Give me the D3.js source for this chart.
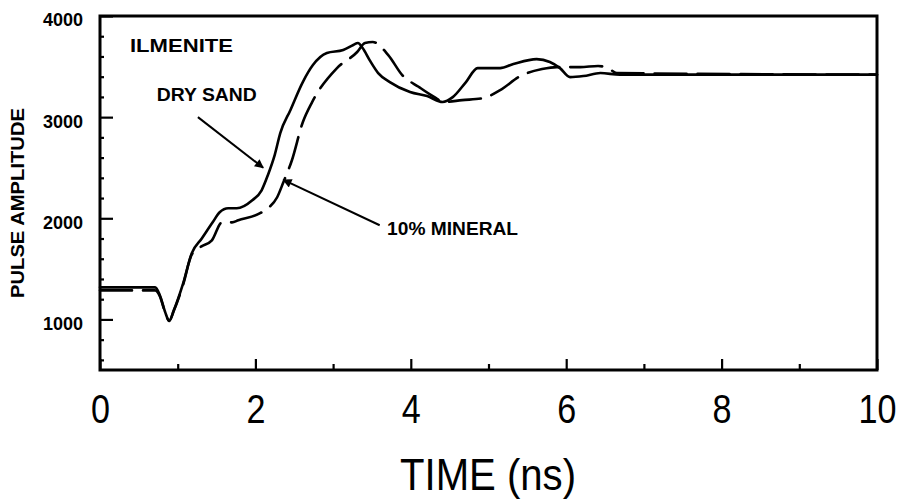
<!DOCTYPE html>
<html>
<head>
<meta charset="utf-8">
<script src="https://cdn.jsdelivr.net/npm/d3@7"></script>
<style>
	body { margin: 0; background: #fff; }
	.curve { fill: none; stroke: #000; stroke-width: 2.6; stroke-linejoin: round; stroke-linecap: round; }
	.frame { fill: none; stroke: #000; stroke-width: 3; }
	.axis path { display: none; }
	.axis line { stroke: #000; stroke-width: 2.2; }
</style>
</head>
<body>
<div id="chart"></div>
<script>
// dati (tempo in ns, ampiezza)
const drySandTime = [0, 0.71, 0.77, 0.84, 0.89, 0.95, 1.07, 1.18, 1.31, 1.45, 1.54, 1.65, 1.76, 1.96, 2.08, 2.16, 2.25, 2.32, 2.45, 2.61, 2.74, 2.92, 3.13, 3.26, 3.32, 3.38, 3.47, 3.58, 3.73, 3.99, 4.21, 4.41, 4.54, 4.71, 4.86, 5.15, 5.32, 5.62, 5.79, 5.92, 6.05, 6.22, 6.44, 6.69, 10];
const drySandAmp = [1317, 1317, 1240, 1070, 985, 1090, 1356, 1653, 1800, 1960, 2059, 2099, 2099, 2178, 2277, 2426, 2630, 2842, 3069, 3347, 3515, 3634, 3663, 3713, 3733, 3683, 3564, 3436, 3347, 3248, 3208, 3150, 3198, 3347, 3485, 3485, 3525, 3574, 3545, 3485, 3396, 3406, 3436, 3420, 3420];

const mineralTime = [0, 0.71, 0.77, 0.84, 0.89, 0.95, 1.07, 1.18, 1.30, 1.44, 1.57, 1.70, 1.78, 2.06, 2.16, 2.28, 2.36, 2.47, 2.61, 2.73, 3.05, 3.31, 3.41, 3.51, 3.71, 3.89, 4.10, 4.30, 4.43, 4.66, 4.93, 5.15, 5.41, 5.69, 5.88, 6.18, 6.41, 6.54, 6.65, 10];
const mineralAmp = [1287, 1287, 1230, 1065, 985, 1085, 1345, 1640, 1720, 1782, 1960, 1960, 1980, 2050, 2099, 2208, 2356, 2574, 2950, 3149, 3485, 3644, 3733, 3743, 3614, 3416, 3300, 3200, 3150, 3168, 3188, 3267, 3406, 3475, 3495, 3495, 3505, 3485, 3436, 3420];

const xTicks = [0, 2, 4, 6, 8, 10];
const xMinorTicks = [1, 3, 5, 7, 9];
const yTicks = [1000, 2000, 3000, 4000];
const yMinorTicks = [600, 800, 1200, 1400, 1600, 1800, 2200, 2400, 2600, 2800, 3200, 3400, 3600, 3800];

// etichette e frecce (in unita' dei dati)
const labels = [
	{ text: "ILMENITE", t: 0.386, a: 3713, len: 103 },
	{ text: "DRY SAND", t: 0.73, a: 3227, len: 100 },
	{ text: "10% MINERAL", t: 3.695, a: 1900, len: 131 }
];
const arrows = [
	{ t0: 1.26, a0: 3000, t1: 2.10, a1: 2500 },
	{ t0: 3.60, a0: 1931, t1: 2.36, a1: 2380 }
];

const W = 903, H = 504;
const svg = d3.select("#chart").append("svg")
	.attr("width", W)
	.attr("height", H);

const x = d3.scaleLinear().domain([0, 10]).range([100, 877]);
const y = d3.scaleLinear().domain([500, 4000]).range([370, 16]);

svg.append("defs").append("marker")
	.attr("id", "head")
	.attr("viewBox", "0 0 10 10")
	.attr("refX", 9).attr("refY", 5)
	.attr("markerWidth", 13).attr("markerHeight", 9)
	.attr("markerUnits", "userSpaceOnUse")
	.attr("orient", "auto")
	.append("path")
	.attr("d", "M0,0L10,5L0,10z")
	.attr("fill", "#000");

// assi: tacche rivolte verso l'interno
svg.append("g").attr("class", "axis")
	.attr("transform", "translate(" + x(0) + ",0)")
	.call(d3.axisLeft(y).tickValues(yTicks).tickSize(-13).tickPadding(17).tickFormat(d3.format("d")))
	.selectAll("text")
	.style("font-family", "'Liberation Sans', Arial, sans-serif")
	.style("font-weight", "bold")
	.style("font-size", "18px")
	.attr("dy", "0.55em")
	.attr("fill", "#000");

svg.append("g").attr("class", "axis")
	.attr("transform", "translate(" + x(0) + ",0)")
	.call(d3.axisLeft(y).tickValues(yMinorTicks).tickSize(-4).tickFormat(""));

// cifre strette come nell'originale: forzo la larghezza
svg.append("g").attr("class", "axis")
	.attr("transform", "translate(0," + y(500) + ")")
	.call(d3.axisBottom(x).tickValues(xTicks).tickSize(-11).tickPadding(25).tickFormat(d3.format("d")))
	.selectAll("text")
	.style("font-family", "'Liberation Sans', Arial, sans-serif")
	.style("font-size", "40px")
	.attr("dy", "0.71em")
	.attr("textLength", d => String(d).length * 19)
	.attr("lengthAdjust", "spacingAndGlyphs")
	.attr("fill", "#000");

svg.append("g").attr("class", "axis")
	.attr("transform", "translate(0," + y(500) + ")")
	.call(d3.axisBottom(x).tickValues(xMinorTicks).tickSize(-6).tickFormat(""));

svg.append("rect")
	.attr("class", "frame")
	.attr("x", x(0)).attr("y", y(4000))
	.attr("width", x(10) - x(0))
	.attr("height", y(500) - y(4000));

// curve
const line = d3.line()
	.x(d => x(d[0]))
	.y(d => y(d[1]))
	.curve(d3.curveMonotoneX);

svg.append("path")
	.attr("class", "curve")
	.attr("d", line(d3.zip(drySandTime, drySandAmp)));

svg.append("path")
	.attr("class", "curve")
	.style("stroke-dasharray", "32,11")
	.attr("d", line(d3.zip(mineralTime, mineralAmp)));

// frecce delle annotazioni
svg.selectAll(".arrow")
	.data(arrows)
	.enter().append("line")
	.attr("class", "arrow")
	.attr("x1", d => x(d.t0)).attr("y1", d => y(d.a0))
	.attr("x2", d => x(d.t1)).attr("y2", d => y(d.a1))
	.attr("stroke", "#000")
	.attr("stroke-width", 2)
	.attr("marker-end", "url(#head)");

svg.selectAll(".label")
	.data(labels)
	.enter().append("text")
	.attr("class", "label")
	.attr("x", d => x(d.t))
	.attr("y", d => y(d.a))
	.attr("dy", "0.36em")
	.attr("textLength", d => d.len)
	.attr("lengthAdjust", "spacingAndGlyphs")
	.style("font-family", "'Liberation Sans', Arial, sans-serif")
	.style("font-weight", "bold")
	.style("font-size", "18px")
	.text(d => d.text);

// titoli degli assi
svg.append("text")
	.attr("x", 400)
	.attr("y", 490)
	.attr("textLength", 176)
	.attr("lengthAdjust", "spacingAndGlyphs")
	.style("font-family", "'Liberation Sans', Arial, sans-serif")
	.style("font-size", "45px")
	.text("TIME (ns)");

svg.append("text")
	.attr("transform", "translate(24,203) rotate(-90)")
	.attr("text-anchor", "middle")
	.attr("textLength", 190)
	.attr("lengthAdjust", "spacingAndGlyphs")
	.style("font-family", "'Liberation Sans', Arial, sans-serif")
	.style("font-weight", "bold")
	.style("font-size", "18px")
	.text("PULSE AMPLITUDE");
</script>
</body>
</html>
